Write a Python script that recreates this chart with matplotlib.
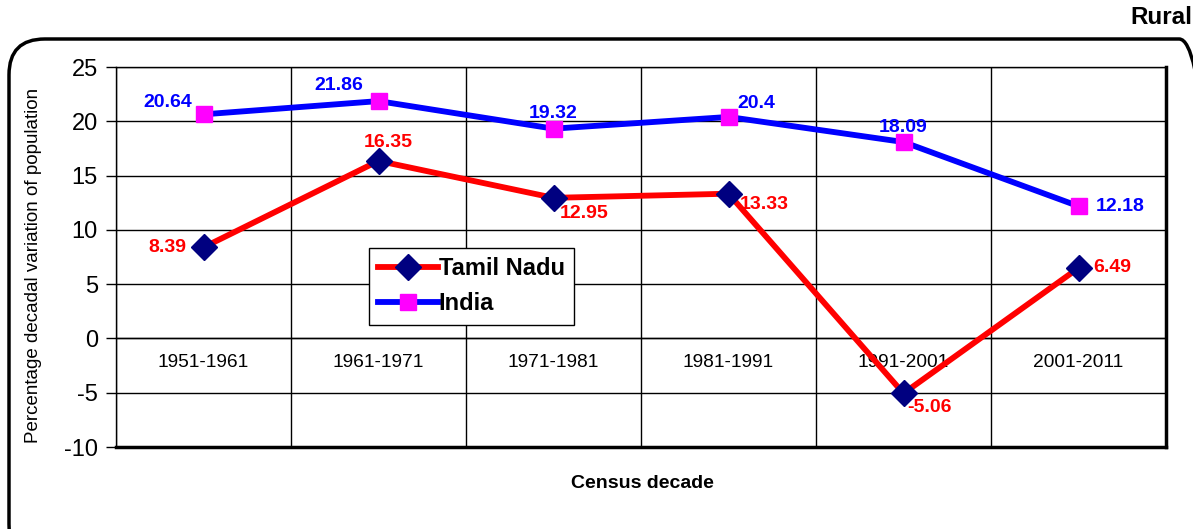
import matplotlib
matplotlib.use("Agg")
import matplotlib.pyplot as plt
from matplotlib.patches import FancyBboxPatch

plt.rcParams["font.family"] = ["Liberation Sans", "DejaVu Sans"]
plt.rcParams["axes.unicode_minus"] = False

# ---- data -----------------------------------------------------------------
decades = ["1951-1961", "1961-1971", "1971-1981", "1981-1991", "1991-2001", "2001-2011"]
tamil_nadu = [8.39, 16.35, 12.95, 13.33, -5.06, 6.49]
india = [20.64, 21.86, 19.32, 20.4, 18.09, 12.18]
y_ticks = [-10, -5, 0, 5, 10, 15, 20, 25]

# label offsets (points) for each data label
tn_offsets = [(-26, 0), (7, 13.5), (22, -11), (25.5, -7.5), (19, -10.5), (24, 0)]
in_offsets = [(-26, 8.6), (-28.5, 11.5), (0, 11), (20, 10), (0, 10.8), (30, 0)]

fig = plt.figure(figsize=(11.93, 5.29), dpi=100)
fig.patch.set_facecolor("white")

# rounded outer frame (runs off the right/bottom edge like the source)
frame = FancyBboxPatch((9 / 1193, 1 - 560 / 529), 1206 / 1193, 521 / 529,
                       boxstyle="round,pad=0,rounding_size=0.03",
                       transform=fig.transFigure, facecolor="none",
                       edgecolor="black", linewidth=2.5, clip_on=False,
                       mutation_aspect=1193 / 529)
fig.patches.append(frame)

ax = fig.add_axes([116 / 1193, 1 - 447 / 529, 1050 / 1193, 380 / 529])
x = list(range(len(decades)))

ax.plot(x, tamil_nadu, color="#FF0000", lw=4.2, marker="D", ms=13,
        mfc="#000080", mec="#000080", label="Tamil Nadu", zorder=4)
ax.plot(x, india, color="#0000FF", lw=4.2, marker="s", ms=12,
        mfc="#FF00FF", mec="#FF00FF", label="India", zorder=4)

for xi, v, off in zip(x, tamil_nadu, tn_offsets):
    ax.annotate(f"{v:g}", (xi, v), xytext=off, textcoords="offset points",
                ha="center", va="center", fontsize=14, fontweight="bold",
                color="#FF0000", zorder=5)
for xi, v, off in zip(x, india, in_offsets):
    ax.annotate(f"{v:g}", (xi, v), xytext=off, textcoords="offset points",
                ha="center", va="center", fontsize=14, fontweight="bold",
                color="#0000FF", zorder=5)

ax.set_xlim(-0.5, len(decades) - 0.5)
ax.set_ylim(-10, 25)
ax.set_yticks(y_ticks)
ax.tick_params(axis="y", labelsize=17, length=7, width=1, direction="out", pad=6)

# category labels sit just under the zero line, as in Excel
ax.spines["bottom"].set_position(("data", 0))
ax.spines["bottom"].set_linewidth(1)
ax.set_xticks(x, decades)
ax.set_xticks([i - 0.5 for i in range(len(decades) + 1)], minor=True)
ax.tick_params(axis="x", which="major", length=0, labelsize=13.8, pad=11)
ax.tick_params(axis="x", which="minor", length=0)

ax.grid(True, axis="y", color="black", lw=1)
ax.grid(True, axis="x", which="minor", color="black", lw=1)
ax.set_axisbelow(True)
ax.axhline(-10, color="black", lw=2.5, clip_on=False, zorder=3)
ax.spines["right"].set_linewidth(2.5)
ax.spines["top"].set_linewidth(1)
ax.spines["left"].set_linewidth(1)

ax.set_ylabel("Percentage decadal variation of population", fontsize=13.5)
ax.yaxis.set_label_coords(-0.0705, 0.478)

leg = ax.legend(loc="upper left", bbox_to_anchor=(0.241, 0.524), borderaxespad=0,
                fancybox=False, framealpha=1, edgecolor="black", handlelength=2.5,
                handletextpad=0.05, borderpad=0.4, labelspacing=0.5,
                prop={"size": 17, "weight": "bold"})
leg.get_frame().set_linewidth(1)

fig.text(642 / 1193, 1 - 484 / 529, "Census decade", ha="center", va="center",
         fontsize=14, fontweight="bold")
fig.text(1130 / 1193, 1 - 18 / 529, "Rural", ha="left", va="center",
         fontsize=17.5, fontweight="bold")

fig.savefig("out.png", dpi=100)
